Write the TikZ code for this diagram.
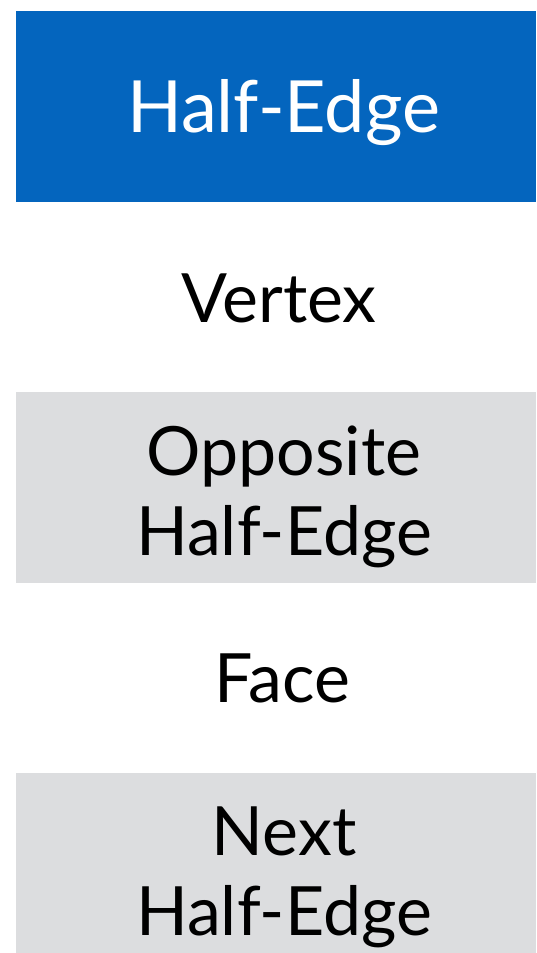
\documentclass[tikz,border=0pt]{standalone}
\usepackage{fontspec}
\setmainfont{Lato}
\definecolor{heblue}{HTML}{0465BE}
\definecolor{hegray}{HTML}{DCDDDF}
\begin{document}
\begin{tikzpicture}[x=1pt,y=-1pt,
  lbl/.style={inner sep=0pt, outer sep=0pt, anchor=base, align=center,
    font=\fontsize{68}{80}\selectfont},
  boxfill/.style={inner sep=0pt, outer sep=0pt, minimum width=520pt}]
\useasboundingbox (0,0) rectangle (536,953);
\fill[white] (0,0) rectangle (536,953);
\node[boxfill, fill=heblue, minimum height=191pt] (b1) at (276,106.5) {};
\node[boxfill, fill=hegray, minimum height=191pt] (b2) at (276,487.5) {};
\node[boxfill, fill=hegray, minimum height=180pt] (b3) at (276,863) {};
\node[lbl, text=white, font=\fontsize{72}{80}\selectfont] (t1) at (283.5,132.3) {Half-Edge};
\node[lbl] (t2) at (279,322.3) {Vertex};
\node[lbl] (t3) at (284,555.7) {Opposite\\Half-Edge};
\node[lbl] (t4) at (282.3,702.3) {Face};
\node[lbl] (t5) at (284,935.7) {Next\\Half-Edge};
\end{tikzpicture}
\end{document}
